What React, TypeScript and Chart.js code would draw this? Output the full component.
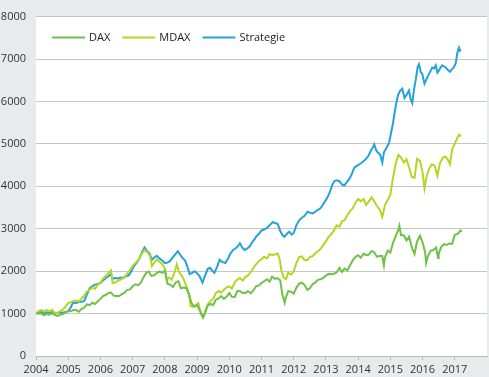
import React, { useEffect, useRef } from "react";
import { Chart, registerables } from "chart.js";

Chart.register(...registerables);

const seriesNames = ["DAX", "MDAX", "Strategie"];
const seriesColors = ["#6fc147", "#b4d623", "#26a1dd"];
const yearTicks = [2004, 2005, 2006, 2007, 2008, 2009, 2010, 2011, 2012, 2013, 2014, 2015, 2016, 2017];
const xMin = 2004;
const xMax = 2018;
const yMin = 0;
const yMax = 8000;
const yStep = 1000;

const dax: [number, number][] = [
  [2004.0, 1000], [2004.08, 1010], [2004.17, 1000], [2004.25, 960], [2004.33, 992], [2004.42, 976], [2004.5, 1009], [2004.58, 970], [2004.67, 942], [2004.75, 969], [2004.83, 986], [2004.92, 1027], [2005.0, 1059],
  [2005.08, 1059], [2005.17, 1083], [2005.25, 1082], [2005.33, 1042], [2005.42, 1110], [2005.5, 1142], [2005.58, 1216], [2005.67, 1202], [2005.75, 1255], [2005.83, 1227], [2005.92, 1292], [2006.0, 1346],
  [2006.08, 1412], [2006.17, 1443], [2006.25, 1486], [2006.33, 1496], [2006.42, 1417], [2006.5, 1414], [2006.58, 1414], [2006.67, 1458], [2006.75, 1494], [2006.83, 1560], [2006.92, 1570], [2007.0, 1642],
  [2007.08, 1690], [2007.17, 1671], [2007.25, 1721], [2007.33, 1844], [2007.42, 1962], [2007.5, 1993], [2007.58, 1888], [2007.67, 1901], [2007.75, 1957], [2007.83, 1996], [2007.92, 1959], [2008.0, 2008],
  [2008.08, 1705], [2008.17, 1679], [2008.25, 1626], [2008.33, 1729], [2008.42, 1766], [2008.5, 1597], [2008.58, 1612], [2008.67, 1598], [2008.75, 1451], [2008.83, 1241], [2008.92, 1162], [2009.0, 1197],
  [2009.08, 1080], [2009.15, 957], [2009.19, 912], [2009.25, 1017], [2009.33, 1187], [2009.42, 1230], [2009.5, 1197], [2009.58, 1327], [2009.67, 1358], [2009.75, 1412], [2009.83, 1348], [2009.92, 1400], [2010.0, 1483],
  [2010.08, 1396], [2010.17, 1393], [2010.25, 1532], [2010.33, 1527], [2010.42, 1484], [2010.5, 1485], [2010.58, 1530], [2010.67, 1475], [2010.75, 1550], [2010.83, 1643], [2010.92, 1665], [2011.0, 1721],
  [2011.08, 1761], [2011.17, 1810], [2011.25, 1752], [2011.33, 1870], [2011.42, 1815], [2011.5, 1836], [2011.58, 1782], [2011.65, 1440], [2011.72, 1260], [2011.75, 1369], [2011.83, 1528], [2011.92, 1515], [2012.0, 1468],
  [2012.08, 1607], [2012.17, 1706], [2012.25, 1729], [2012.33, 1683], [2012.42, 1559], [2012.5, 1597], [2012.58, 1685], [2012.67, 1735], [2012.75, 1796], [2012.83, 1807], [2012.92, 1843], [2013.0, 1894],
  [2013.08, 1935], [2013.17, 1927], [2013.25, 1940], [2013.33, 1970], [2013.42, 2078], [2013.5, 1981], [2013.58, 2060], [2013.67, 2017], [2013.75, 2139], [2013.83, 2248], [2013.92, 2341], [2014.0, 2377],
  [2014.08, 2316], [2014.17, 2412], [2014.25, 2378], [2014.33, 2390], [2014.42, 2475], [2014.5, 2447], [2014.58, 2341], [2014.67, 2357], [2014.75, 2358], [2014.8, 2140], [2014.83, 2321], [2014.92, 2484], [2015.0, 2440],
  [2015.08, 2662], [2015.17, 2838], [2015.25, 2978], [2015.28, 3070], [2015.33, 2851], [2015.42, 2841], [2015.5, 2724], [2015.58, 2815], [2015.67, 2553], [2015.75, 2404], [2015.83, 2700], [2015.92, 2833], [2016.0, 2674],
  [2016.08, 2439], [2016.11, 2190], [2016.17, 2363], [2016.25, 2480], [2016.33, 2499], [2016.42, 2554], [2016.48, 2310], [2016.5, 2409], [2016.58, 2573], [2016.67, 2636], [2016.75, 2616], [2016.83, 2654], [2016.92, 2648], [2017.0, 2857],
  [2017.08, 2871], [2017.17, 2945], [2017.19, 2980],
];

const mdax: [number, number][] = [
  [2004.0, 1000], [2004.08, 1060], [2004.17, 1080], [2004.25, 1050], [2004.33, 1080], [2004.42, 1050], [2004.5, 1090], [2004.58, 1020], [2004.67, 1010], [2004.75, 1060], [2004.83, 1090], [2004.92, 1170], [2005.0, 1250],
  [2005.08, 1270], [2005.17, 1300], [2005.25, 1310], [2005.33, 1280], [2005.42, 1360], [2005.5, 1420], [2005.58, 1520], [2005.67, 1560], [2005.75, 1620], [2005.83, 1580], [2005.92, 1680], [2006.0, 1730],
  [2006.08, 1820], [2006.17, 1890], [2006.25, 1960], [2006.33, 2020], [2006.38, 1720], [2006.46, 1730], [2006.54, 1770], [2006.63, 1800], [2006.71, 1840], [2006.79, 1900], [2006.88, 1980], [2006.96, 2080],
  [2007.04, 2160], [2007.13, 2220], [2007.21, 2300], [2007.29, 2420], [2007.38, 2500], [2007.46, 2440], [2007.54, 2360], [2007.6, 2120], [2007.67, 2200], [2007.75, 2270], [2007.83, 2220], [2007.92, 2160],
  [2008.0, 2060], [2008.06, 1800], [2008.13, 1850], [2008.21, 1800], [2008.29, 1940], [2008.37, 2160], [2008.44, 1980], [2008.52, 1900], [2008.6, 1780], [2008.68, 1620], [2008.75, 1450], [2008.8, 1180],
  [2008.87, 1160], [2008.96, 1200], [2009.04, 1250], [2009.1, 1050], [2009.18, 910], [2009.25, 1050], [2009.33, 1220], [2009.42, 1300], [2009.5, 1350], [2009.58, 1480], [2009.67, 1530], [2009.75, 1490],
  [2009.83, 1560], [2009.92, 1620], [2010.0, 1640], [2010.08, 1590], [2010.17, 1740], [2010.25, 1800], [2010.33, 1840], [2010.42, 1780], [2010.5, 1860], [2010.58, 1900], [2010.67, 1980], [2010.75, 2080],
  [2010.83, 2160], [2010.92, 2240], [2011.0, 2280], [2011.08, 2340], [2011.17, 2300], [2011.25, 2400], [2011.33, 2380], [2011.42, 2390], [2011.5, 2420], [2011.56, 2300], [2011.62, 2000], [2011.69, 1850],
  [2011.76, 1810], [2011.83, 1960], [2011.92, 1920], [2012.0, 1990], [2012.08, 2190], [2012.17, 2330], [2012.25, 2350], [2012.33, 2270], [2012.42, 2260], [2012.5, 2330], [2012.58, 2350], [2012.67, 2420],
  [2012.75, 2470], [2012.83, 2520], [2012.92, 2620], [2013.0, 2700], [2013.08, 2800], [2013.17, 2880], [2013.25, 2960], [2013.33, 3080], [2013.42, 3050], [2013.5, 3180], [2013.58, 3200], [2013.67, 3330],
  [2013.75, 3420], [2013.83, 3480], [2013.92, 3620], [2014.0, 3700], [2014.08, 3650], [2014.17, 3700], [2014.25, 3560], [2014.33, 3640], [2014.42, 3740], [2014.5, 3650], [2014.58, 3540], [2014.67, 3450],
  [2014.75, 3280], [2014.83, 3550], [2014.92, 3680], [2015.0, 3800], [2015.08, 4200], [2015.17, 4550], [2015.25, 4740], [2015.33, 4680], [2015.42, 4560], [2015.5, 4640], [2015.58, 4450], [2015.67, 4220],
  [2015.75, 4200], [2015.83, 4650], [2015.92, 4600], [2016.0, 4330], [2016.06, 3950], [2016.13, 4250], [2016.21, 4420], [2016.29, 4520], [2016.38, 4480], [2016.46, 4250], [2016.54, 4550], [2016.63, 4680],
  [2016.71, 4700], [2016.79, 4620], [2016.85, 4520], [2016.92, 4880], [2017.0, 5000], [2017.08, 5150], [2017.14, 5220], [2017.19, 5180],
];

const strategie: [number, number][] = [
  [2004.0, 1000], [2004.08, 1020], [2004.17, 1040], [2004.25, 1000], [2004.33, 1030], [2004.42, 1010], [2004.5, 1040], [2004.58, 1000], [2004.67, 1020], [2004.75, 1030], [2004.83, 1020], [2004.92, 1040],
  [2005.0, 1050], [2005.08, 1150], [2005.15, 1260], [2005.25, 1250], [2005.33, 1270], [2005.42, 1280], [2005.5, 1300], [2005.58, 1450], [2005.67, 1600], [2005.75, 1650], [2005.83, 1680], [2005.92, 1700],
  [2006.0, 1720], [2006.08, 1780], [2006.17, 1840], [2006.25, 1880], [2006.32, 1930], [2006.38, 1820], [2006.46, 1840], [2006.54, 1830], [2006.63, 1850], [2006.71, 1840], [2006.79, 1880], [2006.88, 1900],
  [2006.96, 2000], [2007.04, 2120], [2007.13, 2200], [2007.21, 2300], [2007.29, 2450], [2007.37, 2560], [2007.44, 2480], [2007.52, 2420], [2007.6, 2270], [2007.67, 2320], [2007.75, 2360], [2007.83, 2300],
  [2007.92, 2250], [2008.0, 2190], [2008.08, 2200], [2008.15, 2230], [2008.25, 2330], [2008.33, 2400], [2008.4, 2470], [2008.48, 2380], [2008.56, 2300], [2008.63, 2250], [2008.7, 2100], [2008.77, 1930],
  [2008.85, 1960], [2008.92, 2000], [2009.0, 1950], [2009.08, 1880], [2009.17, 1730], [2009.25, 1900], [2009.33, 2050], [2009.4, 2080], [2009.48, 2000], [2009.54, 1960], [2009.62, 2100], [2009.7, 2270],
  [2009.78, 2220], [2009.88, 2190], [2009.96, 2300], [2010.04, 2420], [2010.12, 2500], [2010.2, 2540], [2010.28, 2600], [2010.33, 2660], [2010.4, 2560], [2010.47, 2500], [2010.55, 2530], [2010.63, 2580],
  [2010.71, 2680], [2010.79, 2760], [2010.83, 2810], [2010.92, 2880], [2011.0, 2960], [2011.08, 2980], [2011.17, 3020], [2011.25, 3080], [2011.35, 3160], [2011.42, 3130], [2011.5, 3120], [2011.58, 2950],
  [2011.65, 2850], [2011.71, 2810], [2011.79, 2880], [2011.86, 2930], [2011.94, 2860], [2012.0, 2900], [2012.08, 3080], [2012.17, 3200], [2012.25, 3260], [2012.33, 3300], [2012.43, 3400], [2012.5, 3380],
  [2012.59, 3360], [2012.67, 3400], [2012.74, 3440], [2012.83, 3480], [2012.9, 3560], [2013.0, 3680], [2013.05, 3740], [2013.12, 3860], [2013.2, 4040], [2013.26, 4120], [2013.33, 4140], [2013.42, 4120],
  [2013.5, 4040], [2013.57, 4020], [2013.65, 4100], [2013.72, 4170], [2013.8, 4280], [2013.88, 4440], [2013.96, 4480], [2014.04, 4520], [2014.12, 4560], [2014.24, 4640], [2014.32, 4720], [2014.39, 4830],
  [2014.46, 4920], [2014.5, 4990], [2014.56, 4850], [2014.62, 4790], [2014.68, 4750], [2014.75, 4560], [2014.8, 4800], [2014.86, 4880], [2014.96, 5020], [2015.02, 5250], [2015.08, 5480], [2015.17, 5910],
  [2015.24, 6150], [2015.3, 6250], [2015.37, 6300], [2015.44, 6080], [2015.5, 6150], [2015.58, 6260], [2015.63, 6050], [2015.68, 5960], [2015.73, 6260], [2015.79, 6520], [2015.85, 6820], [2015.89, 6880],
  [2015.94, 6700], [2015.99, 6650], [2016.06, 6420], [2016.12, 6520], [2016.18, 6620], [2016.25, 6720], [2016.3, 6800], [2016.36, 6780], [2016.41, 6850], [2016.46, 6680], [2016.51, 6730], [2016.56, 6800],
  [2016.61, 6850], [2016.66, 6830], [2016.72, 6800], [2016.79, 6740], [2016.85, 6700], [2016.9, 6750], [2016.97, 6800], [2017.03, 6900], [2017.08, 7150], [2017.13, 7270], [2017.16, 7200], [2017.19, 7230],
];

const allSeries = [dax, mdax, strategie];

const FONT = "'Open Sans', 'DejaVu Sans', sans-serif";

const backgroundPlugin = {
  id: "bgPlugin",
  beforeDraw(chart: any) {
    const { ctx, width, height, chartArea } = chart;
    ctx.save();
    ctx.fillStyle = "#e9eaec";
    ctx.fillRect(0, 0, width, height);
    ctx.fillStyle = "#ffffff";
    ctx.fillRect(chartArea.left, chartArea.top, chartArea.right - chartArea.left, chartArea.bottom - chartArea.top);
    ctx.restore();
  },
};

const insideLegendPlugin = {
  id: "insideLegend",
  afterDatasetsDraw(chart: any) {
    const { ctx, chartArea } = chart;
    ctx.save();
    ctx.font = `11px ${FONT}`;
    ctx.textBaseline = "middle";
    ctx.textAlign = "left";
    let x = chartArea.left + 16;
    const y = chartArea.top + 21;
    chart.data.datasets.forEach((ds: any) => {
      ctx.strokeStyle = ds.borderColor;
      ctx.lineWidth = 2;
      ctx.beginPath();
      ctx.moveTo(x, y);
      ctx.lineTo(x + 33, y);
      ctx.stroke();
      ctx.fillStyle = "#222222";
      ctx.fillText(ds.label, x + 37, y);
      x += 37 + ctx.measureText(ds.label).width + 12;
    });
    ctx.restore();
  },
};

export default function App() {
  const canvasRef = useRef<HTMLCanvasElement | null>(null);

  useEffect(() => {
    document.body.style.margin = "0";
    const canvas = canvasRef.current;
    if (!canvas) return;
    const chart = new Chart(canvas, {
      type: "line",
      data: {
        datasets: allSeries.map((s, i) => ({
          label: seriesNames[i],
          data: s.map(([x, y]) => ({ x, y })),
          borderColor: seriesColors[i],
          backgroundColor: seriesColors[i],
          borderWidth: 2,
          pointRadius: 0,
          tension: 0,
          fill: false,
        })),
      },
      options: {
        responsive: false,
        animation: false,
        devicePixelRatio: 1,
        layout: { padding: { top: 12, right: 2, left: 0, bottom: 0 } },
        plugins: {
          legend: { display: false },
          tooltip: { enabled: false },
        },
        scales: {
          x: {
            type: "linear",
            min: xMin,
            max: xMax,
            afterBuildTicks: (scale: any) => {
              scale.ticks = yearTicks.map((v) => ({ value: v }));
            },
            afterFit: (scale: any) => {
              scale.height = 21;
            },
            ticks: {
              callback: (v: any) => String(v),
              color: "#333333",
              font: { family: FONT, size: 11 },
              padding: 3,
              maxRotation: 0,
              autoSkip: false,
            },
            grid: {
              drawOnChartArea: false,
              drawTicks: true,
              tickLength: 4,
              color: "#b8bcc1",
            },
            border: { display: true, color: "#b8bcc1" },
          },
          y: {
            min: yMin,
            max: yMax,
            afterFit: (scale: any) => {
              scale.width = 36;
            },
            ticks: {
              stepSize: yStep,
              callback: (v: any) => String(v),
              color: "#333333",
              font: { family: FONT, size: 11 },
              padding: 10,
            },
            grid: {
              color: "#c4c7cb",
              drawTicks: false,
            },
            border: { display: false },
          },
        },
      },
      plugins: [backgroundPlugin, insideLegendPlugin],
    });
    return () => chart.destroy();
  }, []);

  return (
    <div style={{ width: 489, height: 377 }}>
      <canvas ref={canvasRef} width={489} height={377} style={{ display: "block" }} />
    </div>
  );
}
